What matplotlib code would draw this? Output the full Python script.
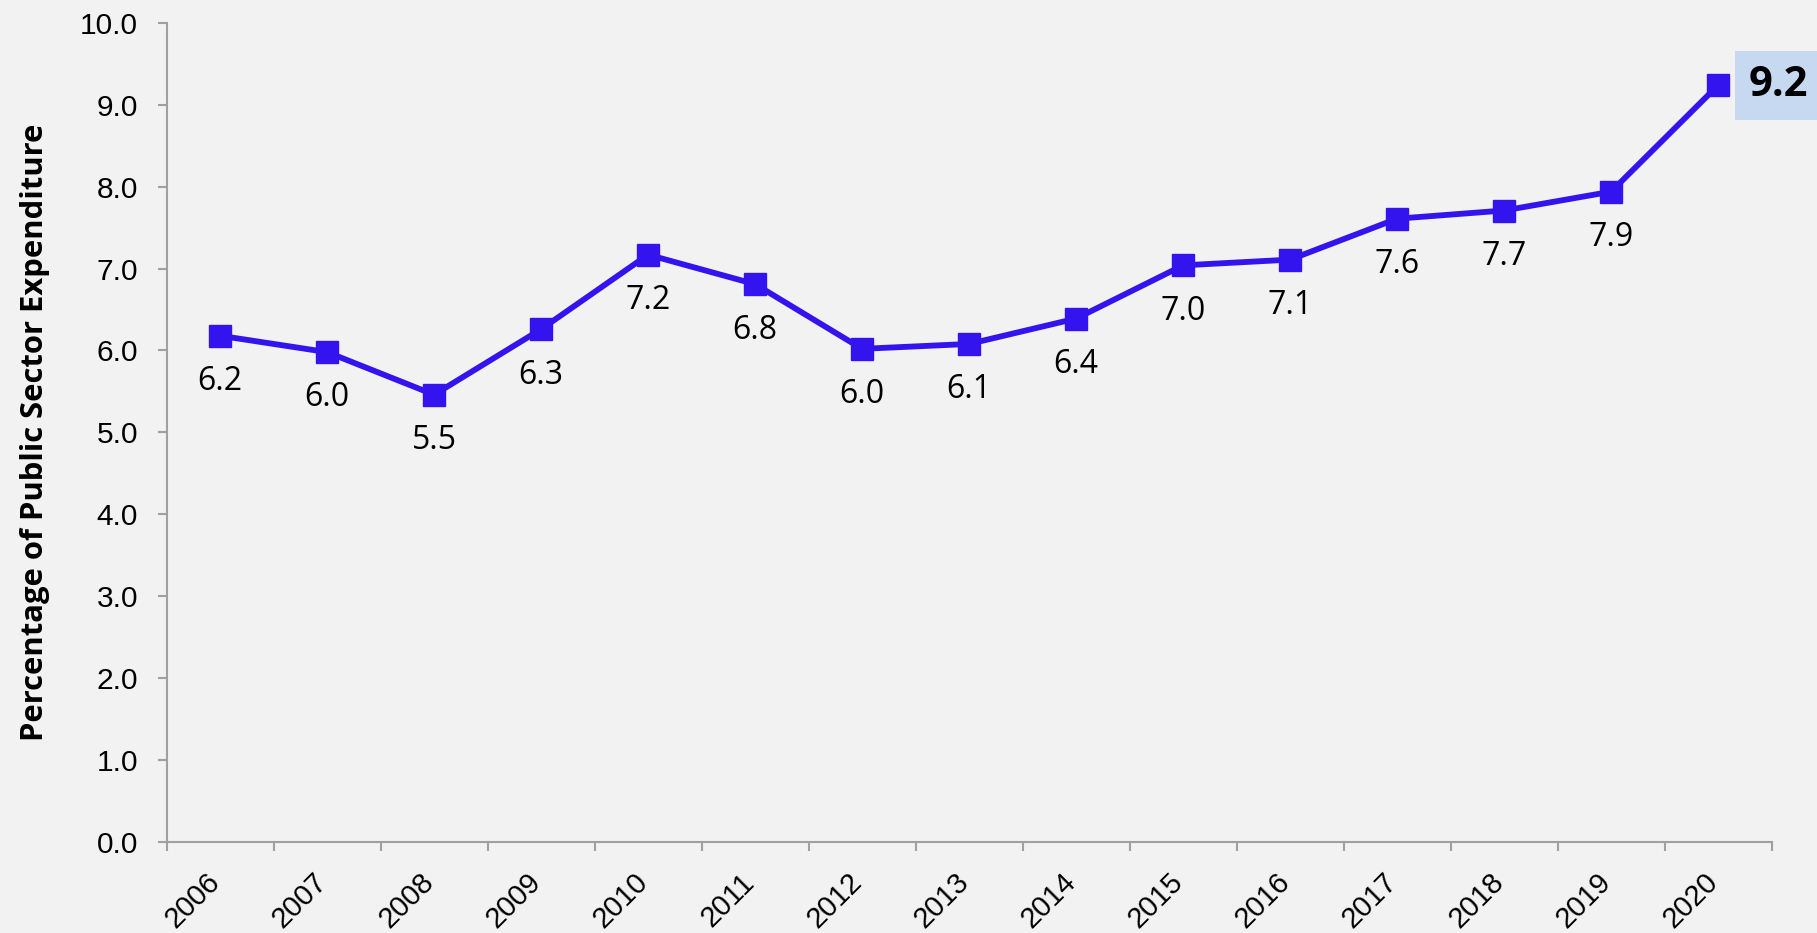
import matplotlib.pyplot as plt
from matplotlib.transforms import ScaledTranslation

# dados do gráfico
anos = ['2006', '2007', '2008', '2009', '2010', '2011', '2012', '2013',
        '2014', '2015', '2016', '2017', '2018', '2019', '2020']
valores = [6.18, 5.98, 5.46, 6.26, 7.17, 6.81, 6.02, 6.08,
           6.39, 7.04, 7.11, 7.61, 7.71, 7.94, 9.24]
yticks = [0, 1, 2, 3, 4, 5, 6, 7, 8, 9, 10]

cor_linha = '#3414EE'
cor_fundo = '#F2F2F2'
cor_eixo = '#A0A0A0'

fig = plt.figure(figsize=(18.17, 9.33), dpi=100, facecolor=cor_fundo)
ax = fig.add_axes([0.0917, 0.0979, 0.8833, 0.8774], facecolor=cor_fundo)

x = list(range(len(anos)))
ax.plot(x, valores, color=cor_linha, linewidth=4.2, marker='s',
        markersize=16.5, markerfacecolor=cor_linha, markeredgecolor=cor_linha,
        solid_joinstyle='round', zorder=3)

# rótulos de dados
for i, v in enumerate(valores):
    if i == len(valores) - 1:
        ax.annotate(f'{v:.1f}', (i, v), xytext=(22, 0), textcoords='offset points',
                    ha='left', va='center', fontsize=30, fontweight='bold',
                    family='Open Sans', color='black', annotation_clip=False,
                    bbox=dict(boxstyle='square,pad=0.33', fc='#C6D9F1', ec='none'))
    else:
        ax.annotate(f'{v:.1f}', (i, v), xytext=(0, -33), textcoords='offset points',
                    ha='center', va='center', fontsize=23, family='Open Sans',
                    color='black')

ax.set_xlim(-0.5, len(anos) - 0.5)
ax.set_ylim(0, 10)

ax.set_yticks(yticks)
ax.set_yticklabels([f'{t:.1f}' for t in yticks], family='Liberation Sans', fontsize=21.5)
ax.tick_params(axis='y', length=6.5, width=1.5, color=cor_eixo, pad=14)

# ticks nas divisas das categorias, rótulos no centro
ax.set_xticks([i - 0.5 for i in range(len(anos) + 1)])
ax.set_xticklabels([])
ax.set_xticks(x, minor=True)
ax.set_xticklabels(anos, minor=True, rotation=45, ha='right', va='top',
                   family='Liberation Sans', fontsize=21)
ax.tick_params(axis='x', which='major', length=6.5, width=1.5, color=cor_eixo)
ax.tick_params(axis='x', which='minor', length=0, pad=19)
desloc = ScaledTranslation(0.05, 0, fig.dpi_scale_trans)
for rotulo in ax.get_xticklabels(minor=True):
    rotulo.set_transform(rotulo.get_transform() + desloc)

for lado in ['top', 'right']:
    ax.spines[lado].set_visible(False)
for lado in ['left', 'bottom']:
    ax.spines[lado].set_color(cor_eixo)
    ax.spines[lado].set_linewidth(1.5)

ax.set_ylabel('Percentage of Public Sector Expenditure', family='Open Sans',
              fontweight='bold', fontsize=22.3)
ax.yaxis.set_label_coords(-0.0725, 0.5)

fig.savefig('out.png', dpi=100, facecolor=cor_fundo)
